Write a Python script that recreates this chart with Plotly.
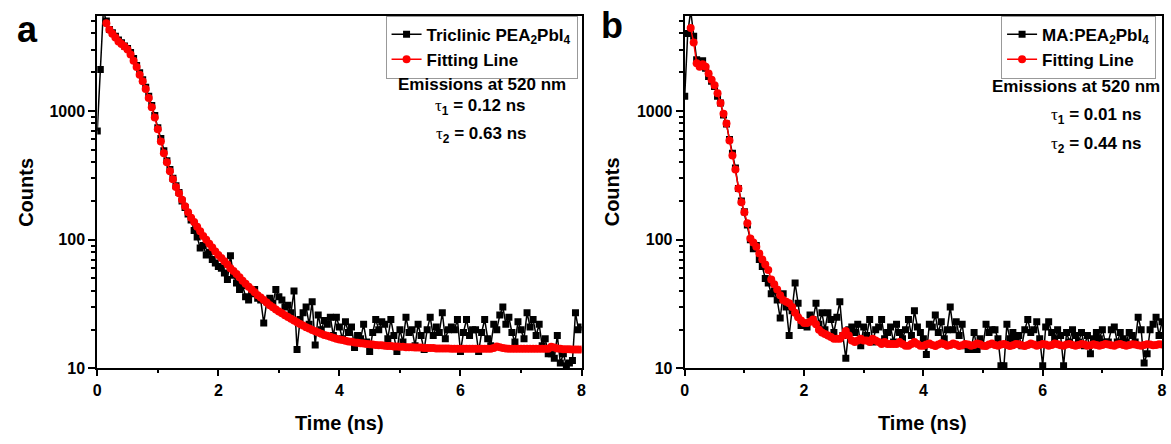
import plotly.graph_objects as go

W, H = 1171, 444
STEP = 0.05

# ---------------- Panel a: Triclinic PEA2PbI4 ----------------
data_a = [700, 2100, 6000, 5000, 4300, 4050, 3800, 3550, 3380, 3200,
          3050, 2850, 2550, 2250, 1980, 1750, 1530, 1300, 1100, 920,
          740, 610, 490, 410, 350, 300, 262, 232, 200, 178,
          158, 142, 118, 105, 86, 90, 76, 80, 70, 66,
          62, 60, 55, 49, 75, 53, 46, 41, 44, 36,
          34, 38, 41, 35, 34, 22.5, 33, 35, 32, 41,
          36, 34, 30, 31, 27, 40, 14, 24, 27, 30,
          22, 33, 15.2, 26, 20, 23.5, 22, 25, 18, 25,
          21, 17, 23, 19, 21, 14.5, 18, 17, 22, 16,
          13.5, 19, 24, 20, 23, 22, 17, 24, 18, 13.5,
          20, 16, 25, 19, 20, 15, 22, 18, 14, 20,
          25, 18, 21, 19, 27, 17, 20, 21, 20, 24,
          13.5, 19, 24, 18, 20, 20, 13.5, 19, 24, 17,
          15, 22, 20, 26, 30, 22, 25, 19, 16, 23,
          20, 17, 27, 21, 24, 18, 22, 15, 17, 13,
          13, 12, 18, 11, 13, 10.5, 11, 11.5, 27, 20,
          21]
fit_a_start = 0.15
fit_a = [4790, 4270, 3980, 3720, 3470, 3310, 3160, 3000, 2750, 2450,
         2190, 1910, 1700, 1480, 1260, 1070, 890, 720, 580, 470,
         400, 340, 295, 257, 229, 204, 182, 163, 148, 137,
         126, 116, 107, 100, 93, 87, 81, 76, 72, 68,
         64, 60, 57, 54, 51, 48, 45.5, 43, 41, 39,
         37, 35.5, 34, 32.5, 31, 29.8, 28.7, 27.7, 26.8, 25.9,
         25.1, 24.3, 23.5, 22.8, 22.1, 21.5, 20.9, 20.4, 19.9, 19.4,
         19.0, 18.6, 18.2, 17.9, 17.6, 17.3, 17.0, 16.8, 16.6, 16.4,
         16.2, 16.1, 15.9, 15.8, 15.7, 15.6, 15.5, 15.4, 15.3, 15.2,
         15.1, 15.1, 15.0, 14.9, 14.9, 14.8, 14.8, 14.7, 14.7, 14.6,
         14.6, 14.6, 14.5, 14.5, 14.5, 14.4, 14.4, 14.4, 14.4, 14.3,
         14.3, 14.3, 14.3, 14.3, 14.2, 14.2, 14.2, 14.2, 14.2, 14.2,
         14.2, 14.2, 14.2, 14.2, 14.2, 14.2, 14.2, 14.2, 14.4, 14.8,
         14.6, 14.4, 14.3, 14.2, 14.2, 14.2, 14.2, 14.2, 14.2, 14.2,
         14.2, 14.2, 14.2, 14.2, 14.2, 14.2, 14.2, 14.7, 14.5, 14.3,
         14.2, 14.1, 14.1, 14.1, 14.0, 14.0, 14.0, 14.0]

# ---------------- Panel b: MA:PEA2PbI4 ----------------
data_b = [1300, 4000, 6000, 3800, 2500, 2300, 2450, 2150, 1850, 1700,
          1550, 1300, 1150, 930, 790, 600, 470, 360, 250, 200,
          165, 130, 100, 85, 90, 70, 62, 50, 46, 38,
          40, 34, 24.6, 38, 30, 18, 28, 46, 32, 21.5,
          22, 21, 26, 24, 32, 22, 27, 20, 27, 24,
          19, 25, 33, 18, 12, 20, 21, 19, 22, 15,
          21, 18, 24, 16, 20, 21, 24, 17, 19, 21,
          16, 22, 19, 17, 20, 24, 18, 28, 21, 19,
          17, 12.8, 22, 21, 26, 19, 23, 17, 20, 30,
          20, 23, 18, 22, 15, 14, 14, 19, 14, 17,
          15, 22, 19, 20, 20, 17, 10.5, 10.5, 22, 17,
          19, 17, 18, 15, 20, 24, 19, 20, 23, 17,
          10.5, 21, 23, 19, 17, 20, 18, 10.5, 19, 16,
          20, 18, 16, 19, 15, 18, 13, 17, 19, 17,
          20, 16, 16, 20, 21, 16, 19, 17, 16, 19,
          18, 16, 25, 20, 11, 13, 20, 22, 25, 18,
          23]
fit_b_start = 0.10
fit_b = [4400, 3400, 2350, 2200, 2300, 2200, 1950, 1750, 1580, 1370,
         1150, 950, 800, 590, 450, 350, 250, 195, 163, 134,
         102, 95, 88, 78, 70, 64, 58, 49, 45, 41,
         37, 34, 33, 32, 30, 27, 25, 23.5, 22.5, 22.5,
         23, 24, 22, 20, 19, 18.5, 18, 17.5, 17, 17,
         17, 18, 19.5, 18, 16.5, 16, 16.5, 17, 16.5, 16.5,
         16, 17, 16.5, 16, 15.5, 16, 15.5, 15.5, 15.5, 15.5,
         16, 15.5, 15, 15, 15.5, 16, 15.5, 15, 15, 15.3,
         15.6, 15.2, 14.9, 15.3, 15.7, 15.4, 15.0, 15.2, 15.6, 15.3,
         14.9, 15.1, 15.5, 15.3, 15.0, 15.2, 15.6, 15.4, 15.0, 14.9,
         15.3, 15.6, 15.2, 15.0, 15.3, 15.5, 15.2, 14.9, 15.1, 15.5,
         15.4, 15.1, 14.9, 15.2, 15.6, 15.3, 15.0, 15.2, 15.5, 15.3,
         15.0, 15.2, 15.6, 15.4, 15.1, 15.0, 15.3, 15.5, 15.2, 15.0,
         15.2, 15.5, 15.3, 15.0, 15.1, 15.4, 15.2, 15.0, 15.2, 15.5,
         15.3, 15.1, 15.0, 15.3, 15.5, 15.2, 15.0, 15.2, 15.4, 15.3,
         15.1, 15.0, 15.2, 15.4, 15.3, 15.1, 15.2, 15.4, 15.3]

name_a = "Triclinic PEA<sub>2</sub>PbI<sub>4</sub>"
name_b = "MA:PEA<sub>2</sub>PbI<sub>4</sub>"
fit_name = "Fitting Line"
emission_text = "Emissions at 520 nm"
tau_a = ["0.12", "0.63"]
tau_b = ["0.01", "0.44"]

x_range = [0, 8]
y_ticks = [10, 100, 1000]


def times(start, n):
    return [round(start + i * STEP, 4) for i in range(n)]


def px(x):
    return x / W


def py(y):
    return 1 - y / H


FONT = "Liberation Sans, Arial, sans-serif"

fig = go.Figure()

panels = [
    ("x", "y", data_a, fit_a, fit_a_start, name_a, "legend", "a"),
    ("x2", "y2", data_b, fit_b, fit_b_start, name_b, "legend2", "b"),
]
for xa, ya, d, f, fs, nm, lg, tag in panels:
    fig.add_trace(go.Scatter(
        x=times(0.0, len(d)), y=d, xaxis=xa, yaxis=ya, name=nm, legend=lg,
        legendgroup=tag + "data",
        mode="lines+markers",
        line=dict(color="black", width=1.5),
        marker=dict(symbol="square", size=7, color="black"),
    ))
    fig.add_trace(go.Scatter(
        x=times(fs, len(f)), y=f, xaxis=xa, yaxis=ya, name=fit_name, legend=lg,
        legendgroup=tag + "fit",
        mode="lines+markers",
        line=dict(color="#ff0000", width=1.5),
        marker=dict(symbol="circle", size=8, color="#ff0000"),
    ))

axis_common = dict(
    showline=True, linecolor="black", linewidth=2, mirror=True,
    showgrid=False, zeroline=False, ticks="outside", tickcolor="black",
    tickfont=dict(family=FONT, size=16, color="black", weight="bold"),
)
xax = dict(axis_common, range=x_range, tickvals=[0, 2, 4, 6, 8], ticklen=6, tickwidth=2,
           minor=dict(ticks="outside", ticklen=3, tickwidth=1.5, dtick=1, tick0=0, tickcolor="black"))
yax = dict(axis_common, type="log", range=[1, 3.74], tickvals=y_ticks,
           ticktext=[str(v) for v in y_ticks], ticklen=7, tickwidth=2,
           minor=dict(ticks="outside", ticklen=4, tickwidth=1.5, dtick="D1", tickcolor="black"))

legend_common = dict(yanchor="top", xanchor="right", bordercolor="#999999", borderwidth=1,
                     bgcolor="white", tracegroupgap=6, traceorder="normal",
                     font=dict(family=FONT, size=17, color="black", weight="bold"))

top, bottom = 16, 376
fig.update_layout(
    width=W, height=H, margin=dict(l=0, r=0, t=0, b=0),
    paper_bgcolor="white", plot_bgcolor="white",
    xaxis=dict(xax, domain=[px(94), px(582)], anchor="y"),
    yaxis=dict(yax, domain=[py(bottom), py(top)], anchor="x"),
    xaxis2=dict(xax, domain=[px(686), px(1167)], anchor="y2"),
    yaxis2=dict(yax, domain=[py(bottom), py(top)], anchor="x2"),
    legend=dict(legend_common, x=px(578), y=py(16)),
    legend2=dict(legend_common, x=px(1161), y=py(16)),
    showlegend=True,
)

SERIF = "Liberation Serif, Times New Roman, serif"


def ann(text, x, y, size=17, angle=0, xanchor="center"):
    fig.add_annotation(text=text, x=px(x), y=py(y), xref="paper", yref="paper",
                       showarrow=False, textangle=angle, xanchor=xanchor, yanchor="middle",
                       font=dict(family=FONT, size=size, color="black", weight="bold"))


def tau(i, v):
    return (f'<span style="font-family:{SERIF};font-weight:normal">τ</span>'
            f'<sub>{i}</sub> = {v} ns')


# panel a texts
ann("a", 24, 30, size=36)
ann("Counts", 22, 196, size=20, angle=-90)
ann("Time (ns)", 338, 432, size=20)
ann(emission_text, 482, 86)
ann(tau(1, tau_a[0]), 480, 109)
ann(tau(2, tau_a[1]), 481, 138)

# panel b texts
ann("b", 613, 26, size=36)
ann("Counts", 613, 196, size=20, angle=-90)
ann("Time (ns)", 926, 432, size=20)
ann(emission_text, 1080, 88)
ann(tau(1, tau_b[0]), 1101, 118)
ann(tau(2, tau_b[1]), 1101, 148)

post = (
    "var s=document.createElement('style');"
    "s.textContent='html,body{margin:0;padding:0;height:444px;overflow:hidden;}"
    ".plotly-graph-div{display:block;}';"
    "document.head.appendChild(s);"
)
fig.write_html("out.html", config={"displayModeBar": False}, post_script=post)
